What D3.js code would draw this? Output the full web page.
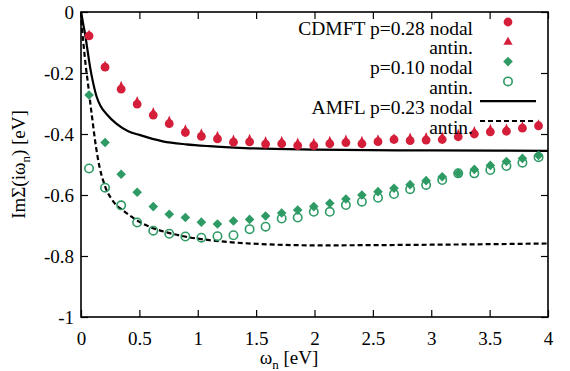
<!DOCTYPE html>
<html>
<head>
<meta charset="utf-8">
<script src="https://cdn.jsdelivr.net/npm/d3@7"></script>
<style>
  body { margin: 0; background: #fff; }
  svg { display: block; }
</style>
</head>
<body>
<div id="chart"></div>
<script>
// Matsubara frequencies (eV)
var omega = [0.069, 0.206, 0.344, 0.481, 0.619, 0.756, 0.894, 1.031, 1.169, 1.306,
	1.444, 1.581, 1.719, 1.856, 1.994, 2.131, 2.269, 2.406, 2.544, 2.681,
	2.819, 2.956, 3.094, 3.231, 3.369, 3.506, 3.644, 3.781, 3.919];

// CDMFT p=0.28
var cdmft28Nodal = [-0.078, -0.181, -0.253, -0.302, -0.338, -0.366, -0.395, -0.408, -0.416, -0.427,
	-0.426, -0.433, -0.432, -0.438, -0.438, -0.432, -0.428, -0.432, -0.425, -0.418,
	-0.422, -0.420, -0.418, -0.409, -0.400, -0.393, -0.391, -0.381, -0.373];
var cdmft28Antin = [-0.082, -0.184, -0.250, -0.300, -0.336, -0.364, -0.393, -0.406, -0.414, -0.426,
	-0.424, -0.431, -0.430, -0.436, -0.437, -0.430, -0.426, -0.430, -0.425, -0.422,
	-0.420, -0.418, -0.416, -0.407, -0.398, -0.391, -0.390, -0.383, -0.376];

// CDMFT p=0.10
var cdmft10Nodal = [-0.272, -0.428, -0.532, -0.591, -0.638, -0.663, -0.674, -0.689, -0.695, -0.685,
	-0.680, -0.669, -0.659, -0.649, -0.638, -0.627, -0.613, -0.600, -0.589, -0.578,
	-0.566, -0.553, -0.540, -0.529, -0.516, -0.503, -0.490, -0.480, -0.470];
var cdmft10Antin = [-0.513, -0.576, -0.634, -0.690, -0.717, -0.727, -0.736, -0.740, -0.735, -0.732,
	-0.712, -0.704, -0.677, -0.674, -0.655, -0.655, -0.633, -0.622, -0.609, -0.597,
	-0.581, -0.567, -0.551, -0.529, -0.529, -0.518, -0.505, -0.494, -0.476];

// AMFL p=0.23 curves, [omega, ImSigma]
var amflNodal = [[0, 0], [0.01, -0.02], [0.02, -0.042], [0.034, -0.07], [0.05, -0.11], [0.077, -0.179],
	[0.1, -0.225], [0.134, -0.278], [0.17, -0.31], [0.22, -0.335], [0.3, -0.365], [0.4, -0.39],
	[0.5, -0.403], [0.7, -0.424], [0.9, -0.434], [1.1, -0.44], [1.4, -0.446], [2.0, -0.451],
	[3.0, -0.454], [4.0, -0.455]];
var amflAntin = [[0, 0], [0.01, -0.06], [0.02, -0.10], [0.04, -0.175], [0.06, -0.235], [0.08, -0.30],
	[0.10, -0.36], [0.12, -0.42], [0.14, -0.47], [0.16, -0.51], [0.19, -0.553], [0.22, -0.585],
	[0.26, -0.612], [0.3, -0.632], [0.35, -0.648], [0.42, -0.668], [0.5, -0.688], [0.6, -0.706],
	[0.75, -0.724], [0.9, -0.737], [1.1, -0.748], [1.4, -0.758], [2.0, -0.765], [3.0, -0.763],
	[4.0, -0.759]];

var xTicks = [0, 0.5, 1, 1.5, 2, 2.5, 3, 3.5, 4];
var yTicks = [0, -0.2, -0.4, -0.6, -0.8, -1];
var legendLabels = ["CDMFT p=0.28 nodal", "antin.", "p=0.10 nodal", "antin.", "AMFL p=0.23 nodal", "antin."];

var width = 570, height = 371;
var margin = { top: 12, left: 81, right: 22, bottom: 54 };
var red = "#d51f3a", green = "#2e9a64";
var serif = "'Liberation Serif', 'Times New Roman', serif";

var svg = d3.select("#chart").append("svg")
	.attr("width", width)
	.attr("height", height);

var x = d3.scaleLinear().domain([0, 4]).range([margin.left, width - margin.right]);
var y = d3.scaleLinear().domain([-1, 0]).range([height - margin.bottom, margin.top]);

// axes, ticks point inward on all four sides
svg.append("g")
	.attr("transform", "translate(0," + y(-1) + ")")
	.call(d3.axisBottom(x).tickValues(xTicks).tickSizeInner(-7).tickSizeOuter(0).tickPadding(14.5).tickFormat(d => String(d)))
	.call(g => g.select(".domain").remove());
svg.append("g")
	.attr("transform", "translate(0," + y(0) + ")")
	.call(d3.axisTop(x).tickValues(xTicks).tickSizeInner(-7).tickSizeOuter(0).tickFormat(""))
	.call(g => g.select(".domain").remove());
svg.append("g")
	.attr("transform", "translate(" + x(0) + ",0)")
	.call(d3.axisLeft(y).tickValues(yTicks).tickSizeInner(-7).tickSizeOuter(0).tickPadding(7).tickFormat(d => String(d)))
	.call(g => g.select(".domain").remove());
svg.append("g")
	.attr("transform", "translate(" + x(4) + ",0)")
	.call(d3.axisRight(y).tickValues(yTicks).tickSizeInner(-7).tickSizeOuter(0).tickFormat(""))
	.call(g => g.select(".domain").remove());

svg.selectAll(".tick line").attr("stroke", "#000").attr("stroke-width", 1.2);
svg.selectAll(".tick text").style("font-size", "19px");

svg.append("rect")
	.attr("x", x(0)).attr("y", y(0))
	.attr("width", x(4) - x(0)).attr("height", y(-1) - y(0))
	.attr("fill", "none").attr("stroke", "#000").attr("stroke-width", 1.6);

// axis titles
var xt = svg.append("text")
	.attr("x", 289).attr("y", 364)
	.attr("text-anchor", "middle")
	.style("font-size", "19px");
xt.append("tspan").text("ω");
xt.append("tspan").attr("dy", 5).style("font-size", "13px").text("n");
xt.append("tspan").attr("dy", -5).text(" [eV]");

var yt = svg.append("text")
	.attr("transform", "translate(25," + ((y(0) + y(-1)) / 2) + ") rotate(-90)")
	.attr("text-anchor", "middle")
	.style("font-size", "19px");
yt.append("tspan").text("ImΣ(iω");
yt.append("tspan").attr("dy", 5).style("font-size", "13px").text("n");
yt.append("tspan").attr("dy", -5).text(") [eV]");

// curves
var line = d3.line()
	.x(d => x(d[0]))
	.y(d => y(d[1]))
	.curve(d3.curveMonotoneX);

var plot = svg.append("g");

plot.append("path")
	.datum(amflNodal)
	.attr("d", line)
	.attr("fill", "none")
	.attr("stroke", "#000")
	.attr("stroke-width", 2.2);

plot.append("path")
	.datum(amflAntin)
	.attr("d", line)
	.attr("fill", "none")
	.attr("stroke", "#000")
	.attr("stroke-width", 2.2)
	.attr("stroke-dasharray", "5,3");

// marker shapes
var triPath = "M0,-7.5L-3.8,1.5L3.8,1.5Z";
var diaPath = "M0,-4.8L4.8,0L0,4.8L-4.8,0Z";

function drawCircles(vals, filled, color) {
	plot.append("g").selectAll("circle")
		.data(vals)
		.join("circle")
		.attr("cx", (d, i) => x(omega[i]))
		.attr("cy", d => y(d))
		.attr("r", filled ? 4.4 : 4.2)
		.attr("fill", filled ? color : "none")
		.attr("stroke", filled ? "none" : color)
		.attr("stroke-width", 1.6);
}
function drawPaths(vals, p, color) {
	plot.append("g").selectAll("path")
		.data(vals)
		.join("path")
		.attr("d", p)
		.attr("transform", (d, i) => "translate(" + x(omega[i]) + "," + y(d) + ")")
		.attr("fill", color);
}

drawCircles(cdmft28Nodal, true, red);
drawPaths(cdmft28Antin, triPath, red);
drawPaths(cdmft10Nodal, diaPath, green);
drawCircles(cdmft10Antin, false, green);

// legend
var legend = svg.append("g");
legendLabels.forEach(function (lab, i) {
	var ly = 22 + i * 19.8;
	legend.append("text")
		.attr("x", 473).attr("y", ly + 12.5)
		.attr("text-anchor", "end")
		.style("font-size", "19.5px")
		.text(lab);
	if (i === 0) legend.append("circle").attr("cx", 508).attr("cy", ly).attr("r", 4.4).attr("fill", red);
	if (i === 1) legend.append("path").attr("d", "M0,-5L-4.6,3L4.6,3Z").attr("transform", "translate(508," + ly + ")").attr("fill", red);
	if (i === 2) legend.append("path").attr("d", diaPath).attr("transform", "translate(508," + ly + ")").attr("fill", green);
	if (i === 3) legend.append("circle").attr("cx", 508).attr("cy", ly).attr("r", 4.2).attr("fill", "none").attr("stroke", green).attr("stroke-width", 1.6);
	if (i === 4) legend.append("line").attr("x1", 480).attr("x2", 536).attr("y1", ly).attr("y2", ly).attr("stroke", "#000").attr("stroke-width", 2.2);
	if (i === 5) legend.append("line").attr("x1", 480).attr("x2", 536).attr("y1", ly).attr("y2", ly).attr("stroke", "#000").attr("stroke-width", 2.2).attr("stroke-dasharray", "5,3");
});

// serif everywhere, like the original
svg.selectAll("text").style("font-family", serif).attr("fill", "#000");
</script>
</body>
</html>
